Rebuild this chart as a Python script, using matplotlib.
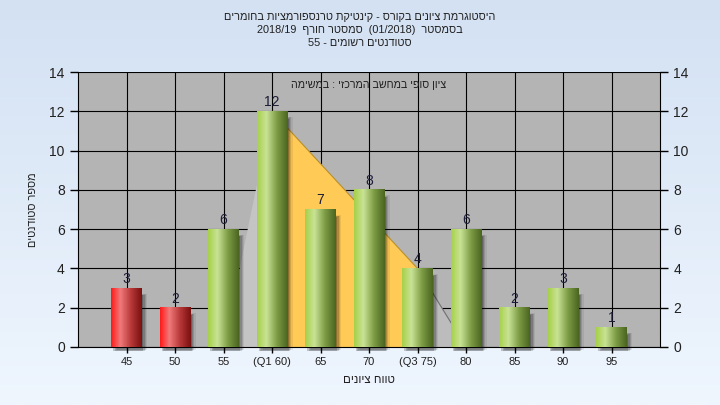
import re
import numpy as np
import matplotlib
matplotlib.use('Agg')
import matplotlib.pyplot as plt
from matplotlib.colors import LinearSegmentedColormap
from matplotlib.patches import Rectangle

plt.rcParams['font.family'] = ['Liberation Sans', 'DejaVu Sans']

# chart data
title_lines = [
    'היסטוגרמת ציונים בקורס - קינטיקת טרנספורמציות בחומרים',
    'בסמסטר  (01/2018)  סמסטר חורף  2018/19',
    'סטודנטים רשומים - 55',
]
note = 'ציון סופי במחשב המרכזי : במשימה'
x_title = 'טווח ציונים'
y_title = 'מספר סטודנטים'
grades = ['45', '50', '55', '(Q1 60)', '65', '70', '(Q3 75)', '80', '85', '90', '95']
counts = [3, 2, 6, 12, 7, 8, 4, 6, 2, 3, 1]
n_failed = 2          # bars below passing grade (red)
q1_idx, q3_idx = 3, 6  # quartile bars


def rtl(s):
    # crude visual reordering: reverse hebrew, keep numbers/latin left-to-right
    out = s[::-1]
    out = re.sub(r'[0-9A-Za-z/.]+', lambda m: m.group(0)[::-1], out)
    return out.translate(str.maketrans('()', ')('))


fig = plt.figure(figsize=(7.2, 4.05), dpi=100)

# background gradient
bg = fig.add_axes([0, 0, 1, 1], zorder=-10)
bg.axis('off')
bg_cmap = LinearSegmentedColormap.from_list('bg', ['#eff6fe', '#d3e1f3'])
bg.imshow(np.linspace(0, 1, 256).reshape(-1, 1), cmap=bg_cmap, aspect='auto',
          extent=(0, 1, 0, 1), origin='lower')

ax = fig.add_axes([78 / 720, 58 / 405, 582 / 720, 275 / 405])
ax.set_facecolor('#b4b4b4')

x = np.arange(len(grades))
w = 0.62

green = LinearSegmentedColormap.from_list('g', [(0, '#a6d04a'), (0.3, '#c9e396'),
                                                (0.65, '#7d9c45'), (1, '#4b6520')])
red = LinearSegmentedColormap.from_list('r', [(0, '#ff1a1a'), (0.3, '#f07a7a'),
                                              (0.65, '#b83838'), (1, '#7a1010')])
grad = np.linspace(0, 1, 64).reshape(1, -1)

# quartile band and whiskers
ax.fill([q1_idx - 1, q1_idx, q1_idx], [0, counts[q1_idx], 0], color='#c4c4c4', zorder=1.2, lw=0)
ax.fill([q3_idx, q3_idx, q3_idx + 1], [0, counts[q3_idx], 0], color='#bcbcbc', zorder=1.2, lw=0)
ax.plot([q3_idx, q3_idx + 1], [counts[q3_idx], 0], color='#707070', lw=0.8, zorder=1.3)
ax.fill([q1_idx, q1_idx, q3_idx, q3_idx], [0, counts[q1_idx], counts[q3_idx], 0],
        color='#ffca55', zorder=1.4, lw=0)
ax.plot([q1_idx, q3_idx], [counts[q1_idx], counts[q3_idx]], color='#b8902e', lw=0.8, zorder=1.5)

for i, c in zip(x, counts):
    # soft shadow
    for k, a in enumerate([0.2, 0.16, 0.12, 0.07]):
        ax.add_patch(Rectangle((i - w / 2 + 0.04 + k * 0.025, -0.22 + k * 0.03), w, c - 0.15,
                               color='black', alpha=a, lw=0, zorder=2, clip_on=False))
    cm = red if i < n_failed else green
    ax.imshow(grad, cmap=cm, extent=(i - w / 2, i + w / 2, 0, c), aspect='auto', zorder=3)
    ax.annotate(str(c), (i, c), xytext=(0, 1.5), textcoords='offset points', ha='center',
                va='bottom', fontsize=10, color='#1c1c38', zorder=5)

ax.set_xlim(-1, len(grades))
ax.set_ylim(0, 14)
ax.set_aspect('auto')
ax.set_xticks(x)
ax.set_xticklabels(grades)
ax.set_yticks(range(0, 15, 2))
ax.set_axisbelow(True)
ax.grid(color='black', lw=0.8, zorder=0)
ax.tick_params(axis='y', left=True, right=True, labelleft=True, labelright=True,
               length=6, width=1, labelsize=10, labelcolor='#202020')
ax.tick_params(axis='x', length=4, width=1, labelsize=8, labelcolor='#202020')
for s in ax.spines.values():
    s.set_color('black')
ax.spines['top'].set_visible(False)

ax.text(5, 13.35, rtl(note), ha='center', va='center', fontsize=7.7, color='#202020', zorder=6)

for k, line in enumerate(title_lines):
    fig.text(0.5, 1 - (17 + 13 * k) / 405, rtl(line), ha='center', va='center',
             fontsize=7.8, color='#202020')
fig.text(369 / 720, 1 - 380 / 405, rtl(x_title), ha='center', va='center', fontsize=8.3,
         color='#202020')
fig.text(33 / 720, 1 - 210 / 405, rtl(y_title), ha='center', va='center', rotation=90,
         fontsize=7.8, color='#202020')

fig.savefig('out.png', dpi=100)
